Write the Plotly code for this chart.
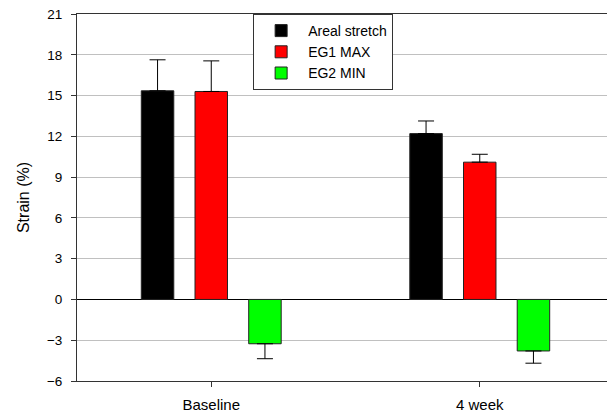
import plotly.graph_objects as go

categories = ["Baseline", "4 week"]
series_names = ["Areal stretch", "EG1 MAX", "EG2 MIN"]
areal_stretch = [15.35, 12.2]
areal_stretch_err = [2.28, 0.93]
eg1_max = [15.3, 10.1]
eg1_max_err = [2.25, 0.58]
eg2_min = [-3.26, -3.79]
eg2_min_err = [1.1, 0.9]
y_ticks = [-6, -3, 0, 3, 6, 9, 12, 15, 18, 21]

colors = ["#000000", "#ff0000", "#00ff00"]
FONT = "Liberation Sans, Arial, sans-serif"

fig = go.Figure()
for name, vals, errs, col in zip(series_names,
                                 [areal_stretch, eg1_max, eg2_min],
                                 [areal_stretch_err, eg1_max_err, eg2_min_err],
                                 colors):
    plus = [e if v >= 0 else 0 for v, e in zip(vals, errs)]
    minus = [e if v < 0 else 0 for v, e in zip(vals, errs)]
    fig.add_trace(go.Bar(
        x=categories, y=vals, name=name,
        marker=dict(color=col, line=dict(color="#222222", width=1)),
        error_y=dict(type="data", symmetric=False, array=plus, arrayminus=minus,
                     color="#000000", thickness=1, width=8),
    ))

# page body adds an 8px offset; margins compensate for it
fig.update_layout(
    width=615, height=412,
    margin=dict(l=69, r=9, t=6, b=39, autoexpand=False),
    paper_bgcolor="white", plot_bgcolor="white",
    barmode="group", bargap=0.4, bargroupgap=0.395,
    font=dict(family=FONT, size=14, color="#000000"),
    showlegend=True,
    legend=dict(x=0.328, y=1, xanchor="left", yanchor="top",
                bordercolor="#333333", borderwidth=1, bgcolor="white",
                font=dict(family=FONT, size=14), tracegroupgap=0,
                itemwidth=44),
)
fig.update_xaxes(
    showline=True, linecolor="#333333", linewidth=1, mirror=True,
    ticks="outside", ticklen=5, tickcolor="#333333",
    showgrid=False, tickfont=dict(size=15), ticklabelstandoff=5,
)
fig.update_yaxes(
    range=[-6, 21], tickvals=y_ticks,
    showline=True, linecolor="#333333", linewidth=1, mirror=True,
    ticks="outside", ticklen=5, tickcolor="#333333",
    showgrid=True, gridcolor="#c0c0c0", gridwidth=1,
    zeroline=True, zerolinecolor="#000000", zerolinewidth=1,
    tickfont=dict(size=13.5), ticklabelstandoff=6, ticklabeloverflow="allow",
    title=dict(text="Strain (%)", font=dict(size=16), standoff=13),
)

fig.write_html("out.html")
